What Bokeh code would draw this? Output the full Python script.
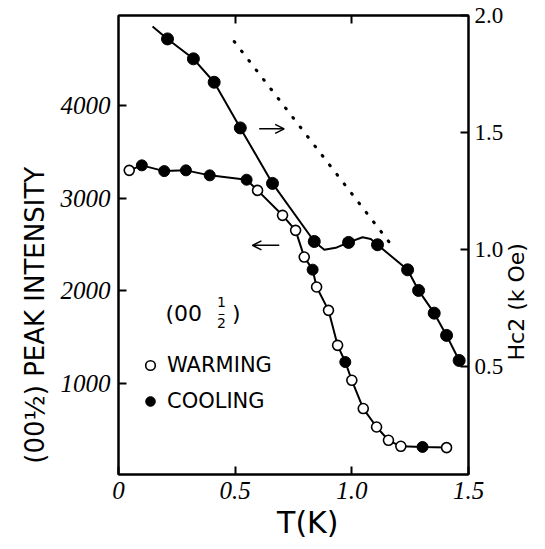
import math
from bokeh.plotting import figure
from bokeh.models import (Range1d, LinearAxis, FixedTicker, Arrow, OpenHead, Label,
                          Legend, LegendItem)
from bokeh.embed import file_html
from bokeh.resources import INLINE

# ---------------- data ----------------
# Hc2 (right axis, kOe) vs T (K)
hc2_T = [0.210, 0.321, 0.410, 0.522, 0.660, 0.839, 0.986, 1.110, 1.239, 1.286, 1.353, 1.406, 1.460]
hc2_H = [1.900, 1.815, 1.715, 1.520, 1.283, 1.035, 1.031, 1.021, 0.914, 0.826, 0.729, 0.634, 0.527]
# hand-drawn curve through the Hc2 points
hc2_curve_T = [0.146, 0.210, 0.321, 0.410, 0.522, 0.660, 0.839, 0.882, 0.931, 0.986, 1.046, 1.081,
               1.110, 1.239, 1.286, 1.353, 1.406, 1.460]
hc2_curve_H = [1.953, 1.900, 1.815, 1.715, 1.520, 1.283, 1.035, 1.000, 1.008, 1.031, 1.053, 1.046,
               1.021, 0.914, 0.826, 0.729, 0.634, 0.527]
# dotted line (right axis)
dot_T = [0.496, 1.182]
dot_H = [1.889, 1.004]

# (0 0 1/2) peak intensity (left axis)
warm_T = [0.046, 0.596, 0.703, 0.759, 0.796, 0.849, 0.900, 0.939, 1.000, 1.049, 1.106, 1.157, 1.210, 1.406]
warm_I = [3300, 3084, 2815, 2653, 2365, 2042, 1790, 1413, 1036, 731, 532, 389, 324, 310]
cool_T = [0.100, 0.196, 0.289, 0.391, 0.549, 0.832, 0.972, 1.303]
cool_I = [3354, 3292, 3300, 3246, 3199, 2229, 1233, 317]
int_curve_T = [0.046, 0.100, 0.196, 0.289, 0.391, 0.549, 0.596, 0.703, 0.759, 0.796, 0.832, 0.849,
               0.900, 0.939, 0.972, 1.000, 1.049, 1.106, 1.157, 1.210, 1.303, 1.406]
int_curve_I = [3300, 3354, 3292, 3300, 3246, 3199, 3084, 2815, 2653, 2365, 2229, 2042,
               1790, 1413, 1233, 1036, 731, 532, 389, 324, 317, 310]

x_ticks = [0, 0.5, 1.0, 1.5]
x_tick_labels = ["0", "0.5", "1.0", "1.5"]
left_ticks = [1000, 2000, 3000, 4000]
right_ticks = [0.5, 1.0, 1.5, 2.0]
right_tick_labels = ["0.5", "1.0", "1.5", "2.0"]

NBSP = "\u00a0"

# ---------------- figure ----------------
p = figure(width=545, height=549, output_backend="svg", toolbar_location=None,
           x_range=Range1d(0, 1.5), y_range=Range1d(20, 4970),
           min_border_left=118, min_border_right=77, min_border_top=15, min_border_bottom=75,
           background_fill_color="white", border_fill_color="white")
p.xgrid.visible = False
p.ygrid.visible = False
p.outline_line_color = "black"
p.outline_line_width = 2

def style_axis(ax):
    ax.axis_line_width = 2
    ax.axis_line_color = "black"
    ax.major_tick_in = 8
    ax.major_tick_out = 0
    ax.major_tick_line_width = 2
    ax.major_tick_line_color = "black"
    ax.minor_tick_line_color = None
    ax.major_label_text_color = "black"
    ax.axis_label_text_color = "black"
    ax.axis_label_text_font_style = "normal"

xa = p.xaxis[0]
style_axis(xa)
xa.ticker = FixedTicker(ticks=x_ticks)
xa.major_label_overrides = {t: s for t, s in zip(x_ticks, x_tick_labels)}
xa.major_label_text_font = "Liberation Serif"
xa.major_label_text_font_style = "italic"
xa.major_label_text_font_size = "25px"
xa.major_label_standoff = 7
xa.axis_label = NBSP * 3 + "T(K)"
xa.axis_label_text_font = "DejaVu Sans"
xa.axis_label_text_font_size = "30px"
xa.axis_label_standoff = 3

ya = p.yaxis[0]
style_axis(ya)
ya.ticker = FixedTicker(ticks=left_ticks)
ya.major_label_text_font = "Liberation Serif"
ya.major_label_text_font_style = "italic"
ya.major_label_text_font_size = "25px"
ya.major_label_standoff = 8
# trailing no-break spaces push the visible text towards the bottom, as in the reference
ya.axis_label = "(00½) PEAK INTENSITY" + NBSP * 17
ya.axis_label_text_font = "DejaVu Sans"
ya.axis_label_text_font_size = "26px"
ya.axis_label_standoff = 8

p.extra_y_ranges = {"hc2": Range1d(0.04, 2.0)}
ra = LinearAxis(y_range_name="hc2", ticker=FixedTicker(ticks=right_ticks))
style_axis(ra)
ra.major_label_overrides = {t: s for t, s in zip(right_ticks, right_tick_labels)}
ra.major_label_text_font = "Liberation Serif"
ra.major_label_text_font_size = "23px"
ra.major_label_standoff = 6
p.add_layout(ra, "right")

# right-hand axis title (reads bottom to top), drawn as the single label of an
# unlined outer axis so that it can sit below the middle, as in the reference
title_anchor = 0.527
ra2 = LinearAxis(y_range_name="hc2", ticker=FixedTicker(ticks=[title_anchor]))
ra2.axis_line_color = None
ra2.major_tick_line_color = None
ra2.minor_tick_line_color = None
ra2.major_tick_in = 0
ra2.major_tick_out = 0
ra2.major_label_overrides = {title_anchor: "Hc2 (k Oe)"}
ra2.major_label_orientation = math.pi / 2
ra2.major_label_text_font = "DejaVu Sans"
ra2.major_label_text_font_size = "22px"
ra2.major_label_text_color = "black"
ra2.major_label_standoff = 10
p.add_layout(ra2, "right")

ta = LinearAxis(ticker=FixedTicker(ticks=[0.5, 1.0]))
style_axis(ta)
ta.major_label_overrides = {0.5: "", 1: ""}
ta.major_label_standoff = 0
p.add_layout(ta, "above")

# ---------------- glyphs ----------------
p.line(int_curve_T, int_curve_I, line_width=2, line_color="black")
p.line(hc2_curve_T, hc2_curve_H, y_range_name="hc2", line_width=2, line_color="black")
p.line(dot_T, dot_H, y_range_name="hc2", line_width=3, line_color="black",
       line_dash="1 11", line_cap="round")

rw = p.scatter(warm_T, warm_I, marker="circle", size=10, fill_color="white",
               line_color="black", line_width=1.6)
rc = p.scatter(cool_T, cool_I, marker="circle", size=11, fill_color="black",
               line_color="black")
p.scatter(hc2_T, hc2_H, y_range_name="hc2", marker="circle", size=12,
          fill_color="black", line_color="black")

# arrows
p.add_layout(Arrow(end=OpenHead(size=9, line_width=1.5, line_color="black"),
                   x_start=0.603, y_start=1.516, x_end=0.710, y_end=1.516,
                   y_range_name="hc2", line_width=1.5, line_color="black"))
p.add_layout(Arrow(end=OpenHead(size=9, line_width=1.5, line_color="black"),
                   x_start=0.689, y_start=2491, x_end=0.574, y_end=2491,
                   line_width=1.5, line_color="black"))

# (0 0 1/2) annotation
font = "DejaVu Sans"
p.add_layout(Label(x=0.201, y=1758, text="(00", text_font=font, text_font_size="22px",
                   text_baseline="middle", text_align="left", text_color="black"))
p.add_layout(Label(x=0.441, y=1875, text="1", text_font=font, text_font_size="14px",
                   text_baseline="middle", text_align="center", text_color="black"))
p.add_layout(Label(x=0.441, y=1765, text="–", text_font=font, text_font_size="14px",
                   text_baseline="middle", text_align="center", text_color="black"))
p.add_layout(Label(x=0.441, y=1650, text="2", text_font=font, text_font_size="14px",
                   text_baseline="middle", text_align="center", text_color="black"))
p.add_layout(Label(x=0.505, y=1758, text=")", text_font=font, text_font_size="22px",
                   text_baseline="middle", text_align="center", text_color="black"))

legend = Legend(items=[LegendItem(label="WARMING", renderers=[rw]),
                       LegendItem(label="COOLING", renderers=[rc])],
                location=(19, 61), border_line_color=None, background_fill_alpha=0,
                label_text_font=font, label_text_font_size="21px", label_text_color="black",
                glyph_width=26, glyph_height=24, label_height=24, label_standoff=4,
                spacing=12, padding=0, margin=0)
p.add_layout(legend)

open("out.html", "w").write(file_html(p, INLINE))
